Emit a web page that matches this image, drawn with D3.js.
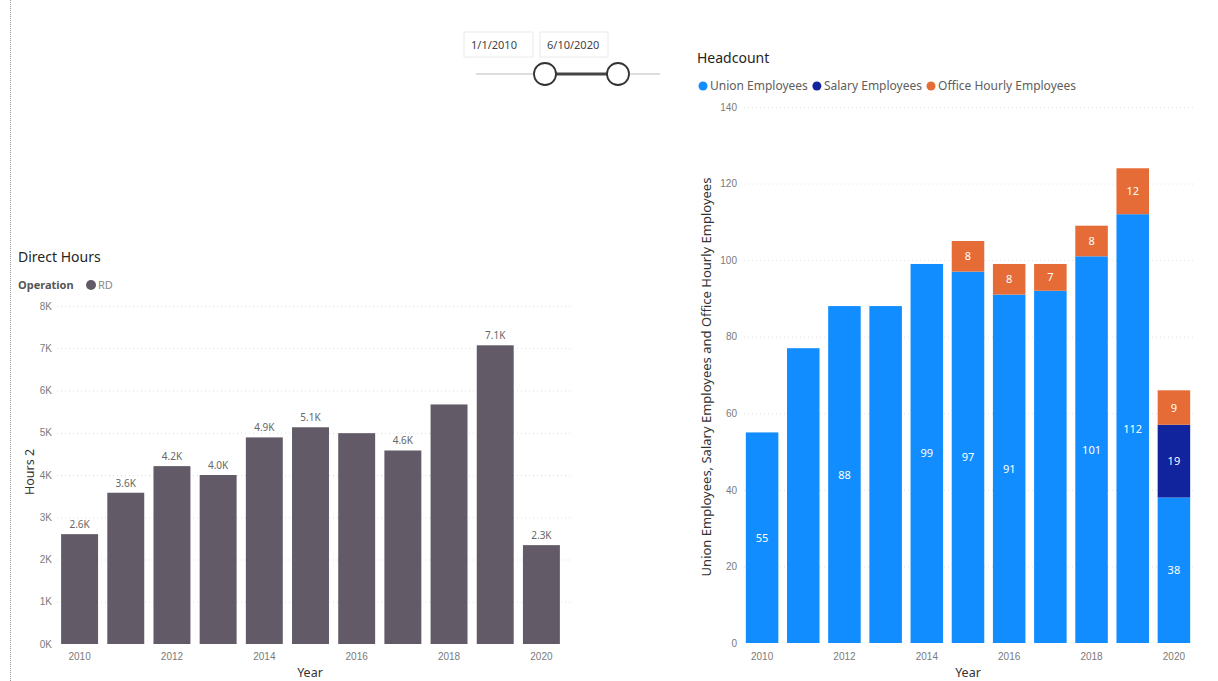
<!DOCTYPE html>
<html><head><meta charset="utf-8">
<script src="https://cdn.jsdelivr.net/npm/d3@7/dist/d3.min.js"></script>
<style>
body{margin:0;background:#fff;}
svg{display:block;font-family:"Segoe UI","Noto Sans","Open Sans",sans-serif;}
</style></head>
<body><svg id="c" width="1218" height="681"></svg>
<script>
// ---- data ----
const years = [2010,2011,2012,2013,2014,2015,2016,2017,2018,2019,2020];
const directHours = [2600,3580,4210,4000,4890,5130,4990,4580,5670,7070,2340];
const directHoursShowLabel = [1,1,1,1,1,1,0,1,0,1,1];
const hoursTicks = [0,1000,2000,3000,4000,5000,6000,7000,8000];
const unionEmployees = [55,77,88,88,99,97,91,92,101,112,38];
const unionShowLabel = [1,0,1,0,1,1,1,0,1,1,1];
const salaryEmployees = [0,0,0,0,0,0,0,0,0,0,19];
const officeHourlyEmployees = [0,0,0,0,0,8,8,7,8,12,9];
const headTicks = [0,20,40,60,80,100,120,140];
const xTickYears = [2010,2012,2014,2016,2018,2020];
const seriesNames = ["Union Employees","Salary Employees","Office Hourly Employees"];
const seriesColors = ["#118DFF","#12239E","#E66C37"];
const dateStart = "1/1/2010", dateEnd = "6/10/2020";

const svg = d3.select("#c");
const tickColor = "#7a7a7a", titleColor = "#252423";

// left dotted border
svg.append("line").attr("x1",10.5).attr("x2",10.5).attr("y1",0).attr("y2",681)
  .attr("stroke","#999").attr("stroke-dasharray","1,1");

// ---- slicer ----
const sl = svg.append("g");
[[464,533,dateStart],[540,608,dateEnd]].forEach(([a,b,t])=>{
  sl.append("rect").attr("x",a).attr("y",32).attr("width",b-a).attr("height",25)
    .attr("fill","#fff").attr("stroke","#eaeaea");
  sl.append("text").attr("x",a+7).attr("y",49).attr("font-size",11).attr("fill","#444").text(t);
});
sl.append("line").attr("x1",476).attr("x2",660).attr("y1",74).attr("y2",74).attr("stroke","#ddd").attr("stroke-width",2);
sl.append("line").attr("x1",545).attr("x2",618).attr("y1",74).attr("y2",74).attr("stroke","#444").attr("stroke-width",3);
[545,618].forEach(cx=>sl.append("circle").attr("cx",cx).attr("cy",74).attr("r",11)
  .attr("fill","#fff").attr("stroke","#333").attr("stroke-width",1.8));

// ---- left chart: Direct Hours ----
const L = svg.append("g");
L.append("text").attr("x",18).attr("y",262).attr("font-size",14).attr("fill",titleColor).text("Direct Hours");
L.append("text").attr("x",18).attr("y",289).attr("font-size",11).attr("font-weight","bold").attr("fill","#555").text("Operation");
L.append("circle").attr("cx",91).attr("cy",285).attr("r",5).attr("fill","#625B67");
L.append("text").attr("x",98).attr("y",289).attr("font-size",11).attr("fill","#888").text("RD");

const xL = d3.scaleBand().domain(years).range([56.5,564.5]).paddingInner(0.2).paddingOuter(0.1);
const yL = d3.scaleLinear().domain([0,8000]).range([644,306]);

const gyL = L.append("g").attr("transform","translate(57,0)")
  .call(d3.axisLeft(yL).tickValues(hoursTicks).tickSize(-513).tickFormat(d=>d/1000+"K"));
gyL.select(".domain").remove();
gyL.selectAll(".tick line").attr("stroke","#ddd").attr("stroke-dasharray","1,3").filter(d=>d===0).remove();
gyL.selectAll(".tick text").attr("x",-5).attr("fill",tickColor).attr("font-size",10);

L.selectAll("rect.b").data(years).join("rect").attr("class","b")
  .attr("x",d=>xL(d)).attr("width",xL.bandwidth())
  .attr("y",(d,i)=>yL(directHours[i])).attr("height",(d,i)=>yL(0)-yL(directHours[i]))
  .attr("fill","#625B67");
L.selectAll("text.lbl").data(years.filter((d,i)=>directHoursShowLabel[i])).join("text").attr("class","lbl")
  .attr("x",d=>xL(d)+xL.bandwidth()/2)
  .attr("y",d=>yL(directHours[years.indexOf(d)])-6)
  .attr("text-anchor","middle").attr("font-size",10).attr("fill","#666")
  .text(d=>(directHours[years.indexOf(d)]/1000).toFixed(1)+"K");

const gxL = L.append("g").attr("transform","translate(0,644)")
  .call(d3.axisBottom(xL).tickValues(xTickYears).tickSize(0).tickPadding(9));
gxL.select(".domain").remove();
gxL.selectAll(".tick text").attr("fill",tickColor).attr("font-size",10);
L.append("text").attr("x",310).attr("y",677).attr("text-anchor","middle").attr("font-size",12.5).attr("fill","#333").text("Year");
L.append("text").attr("transform","translate(34,472) rotate(-90)").attr("text-anchor","middle")
  .attr("font-size",12.5).attr("fill","#333").text("Hours 2");

// ---- right chart: Headcount ----
const R = svg.append("g");
R.append("text").attr("x",697).attr("y",63).attr("font-size",14).attr("fill",titleColor).text("Headcount");
let lx = 703;
seriesNames.forEach((n,i)=>{
  R.append("circle").attr("cx",lx).attr("cy",86).attr("r",4.5).attr("fill",seriesColors[i]);
  const t = R.append("text").attr("x",lx+7).attr("y",90).attr("font-size",12).attr("fill","#605E5C").text(n);
  lx += 7 + t.node().getComputedTextLength() + 9;
});

const xR = d3.scaleBand().domain(years).range([741.7,1194.3]).paddingInner(0.21).paddingOuter(0.1);
const yR = d3.scaleLinear().domain([0,140]).range([643,107]);

const gyR = R.append("g").attr("transform","translate(744,0)")
  .call(d3.axisLeft(yR).tickValues(headTicks).tickSize(-450));
gyR.select(".domain").remove();
gyR.selectAll(".tick line").attr("stroke","#e2e2e2").attr("stroke-dasharray","1,3").filter(d=>d===0).remove();
gyR.selectAll(".tick text").attr("x",-7).attr("fill",tickColor).attr("font-size",10);

const table = years.map((y,i)=>({year:y,union:unionEmployees[i],salary:salaryEmployees[i],office:officeHourlyEmployees[i],i}));
const keys = ["union","salary","office"];
const stack = d3.stack().keys(keys)(table);
stack.forEach((layer,k)=>{
  R.selectAll("rect.s"+k).data(layer.filter(d=>d[1]>d[0])).join("rect").attr("class","s"+k)
    .attr("x",d=>xR(d.data.year)).attr("width",xR.bandwidth())
    .attr("y",d=>yR(d[1])).attr("height",d=>yR(d[0])-yR(d[1]))
    .attr("fill",seriesColors[k]);
  R.selectAll("text.t"+k).data(layer.filter(d=>d[1]>d[0] && (k!==0 || unionShowLabel[d.data.i]))).join("text").attr("class","t"+k)
    .attr("x",d=>xR(d.data.year)+xR.bandwidth()/2)
    .attr("y",d=>(yR(d[0])+yR(d[1]))/2+4)
    .attr("text-anchor","middle").attr("font-size",11).attr("fill","#fff")
    .text(d=>d[1]-d[0]);
});

const gxR = R.append("g").attr("transform","translate(0,643)")
  .call(d3.axisBottom(xR).tickValues(xTickYears).tickSize(0).tickPadding(10));
gxR.select(".domain").remove();
gxR.selectAll(".tick text").attr("fill",tickColor).attr("font-size",10);
R.append("text").attr("x",968).attr("y",677).attr("text-anchor","middle").attr("font-size",12.5).attr("fill","#333").text("Year");
R.append("text").attr("transform","translate(711,377) rotate(-90)").attr("text-anchor","middle")
  .attr("font-size",13).attr("fill","#333").text("Union Employees, Salary Employees and Office Hourly Employees");
</script></body></html>
